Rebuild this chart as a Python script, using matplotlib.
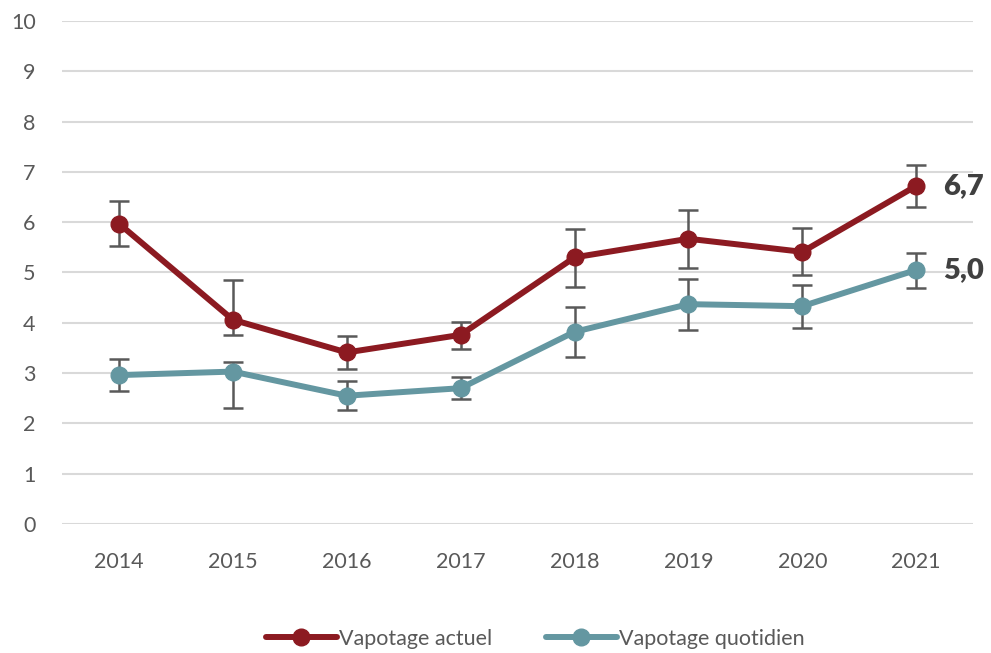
import numpy as np
import matplotlib.pyplot as plt

plt.rcParams['font.family'] = ['Lato', 'DejaVu Sans']

years = ['2014', '2015', '2016', '2017', '2018', '2019', '2020', '2021']

actuel = [5.97, 4.06, 3.41, 3.76, 5.30, 5.67, 5.41, 6.72]
actuel_lo = [5.52, 3.76, 3.08, 3.48, 4.71, 5.08, 4.94, 6.30]
actuel_hi = [6.42, 4.86, 3.74, 4.02, 5.86, 6.24, 5.88, 7.13]

quotidien = [2.96, 3.03, 2.55, 2.70, 3.82, 4.37, 4.33, 5.05]
quotidien_lo = [2.64, 2.30, 2.27, 2.48, 3.31, 3.86, 3.90, 4.69]
quotidien_hi = [3.29, 3.23, 2.84, 2.92, 4.31, 4.87, 4.75, 5.39]

red = '#8c1a21'
teal = '#6497a1'
grey = '#595959'

fig = plt.figure(figsize=(9.91, 6.53), dpi=100)
ax = fig.add_axes([0.0626, 0.1975, 0.9194, 0.7705])

x = np.arange(len(years))

def draw(vals, lo, hi, color, label):
    vals = np.array(vals)
    err = [vals - np.array(lo), np.array(hi) - vals]
    ax.errorbar(x, vals, yerr=err, fmt='none', ecolor=grey, elinewidth=1.8,
                capsize=7, capthick=1.8, zorder=2)
    ax.plot(x, vals, color=color, lw=4.3, marker='o', markersize=12,
            solid_capstyle='round', label=label, zorder=3)

draw(actuel, actuel_lo, actuel_hi, red, 'Vapotage actuel')
draw(quotidien, quotidien_lo, quotidien_hi, teal, 'Vapotage quotidien')

# labels on the last point
for vals in (actuel, quotidien):
    ax.text(x[-1] + 0.235, vals[-1], f"{vals[-1]:.1f}".replace('.', ','),
            fontsize=21, fontweight='heavy', color='#404040', va='center', ha='left')

ax.set_xlim(-0.5, len(years) - 0.5)
ax.set_ylim(0, 10)
ax.set_yticks(range(0, 11))
ax.set_xticks(x)
ax.set_xticklabels(years)
ax.grid(axis='y', color='#d9d9d9', lw=1.5)
ax.set_axisbelow(True)
for s in ax.spines.values():
    s.set_visible(False)
ax.tick_params(length=0, labelsize=15.5, colors=grey)
ax.tick_params(axis='x', pad=20)
ax.tick_params(axis='y', pad=19)

leg = fig.legend(loc='center', bbox_to_anchor=(0.54, 0.022), ncol=2, frameon=False,
                 fontsize=15.5, handlelength=3.3, handletextpad=0.1, columnspacing=2.5)
for t in leg.get_texts():
    t.set_color(grey)

fig.savefig('out.png', dpi=100)
